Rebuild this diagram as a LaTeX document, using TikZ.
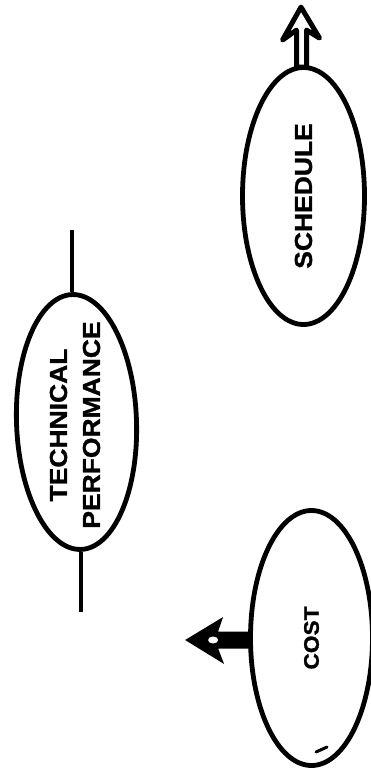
\documentclass[tikz,border=0pt]{standalone}
\usepackage{fontspec}
\newfontfamily\labfont{Liberation Sans}[FakeStretch=1.08, BoldFeatures={FakeBold=1.2}]
\usetikzlibrary{shapes.geometric,calc}
\begin{document}
\begin{tikzpicture}[x=1pt,y=-1pt,
  oval/.style={ellipse, draw, line width=4.8pt, inner sep=0pt},
  labtext/.style={font=\labfont\bfseries\fontsize{24.5}{33}\selectfont, align=center},
  tie/.style={line width=3.4pt},
  openarrow/.style={draw, fill=white, line width=5pt, line join=round},
  solidarrow/.style={fill=black}]
\useasboundingbox (0,0) rectangle (370,775);

% ovals
\node[oval, labtext, rotate=90, minimum width=257pt, minimum height=122pt] (sched) at (303.5,196) {SCHEDULE};
\node[oval, rotate=92, minimum width=255pt, minimum height=120pt] (tech) at (76.5,422) {};
\node[labtext, rotate=90, inner sep=0pt] (techtext) at (75,425) {TECHNICAL\\PERFORMANCE};
\node[oval, labtext, font=\labfont\bfseries\fontsize{21}{24}\selectfont, rotate=90, minimum width=255pt, minimum height=122pt] (cost) at (311.5,638) {COST};

% lines through technical performance
\coordinate (techtop) at ($(tech.east)+(0,-62)$);
\coordinate (techbot) at ($(tech.west)+(0,60)$);
\draw[tie] (tech.east) -- (techtop);
\draw[tie] (tech.west) -- (techbot);

% open arrow on schedule
\coordinate (sbase) at (sched.east);
\coordinate (stip) at ($(sbase)+(-2.5,-58)$);
\draw[openarrow] (stip) -- ($(sbase)+(16,-27)$) -- ($(sbase)+(3,-35)$) -- ($(sbase)+(3,2)$)
  -- ($(sbase)+(-7,2)$) -- ($(sbase)+(-7,-35)$) -- ($(sbase)+(-21,-25)$) -- cycle;

% solid arrow on cost
\coordinate (cbase) at ($(cost.north)+(2,2)$);
\coordinate (ctip) at ($(cbase)+(-65,0)$);
\fill[solidarrow] (ctip) -- ($(cbase)+(-27,-23)$) -- ($(cbase)+(-32,-8.5)$) -- ($(cbase)+(0,-8.5)$)
  -- ($(cbase)+(0,8.5)$) -- ($(cbase)+(-32,8.5)$) -- ($(cbase)+(-26,24)$) -- cycle;
\fill[white] ($(cbase)+(-37,0)$) ellipse [x radius=5pt, y radius=3.5pt];

% small stray mark inside cost
\draw[line width=3pt, line cap=round] (316,752) -- (327,747);
\end{tikzpicture}
\end{document}
